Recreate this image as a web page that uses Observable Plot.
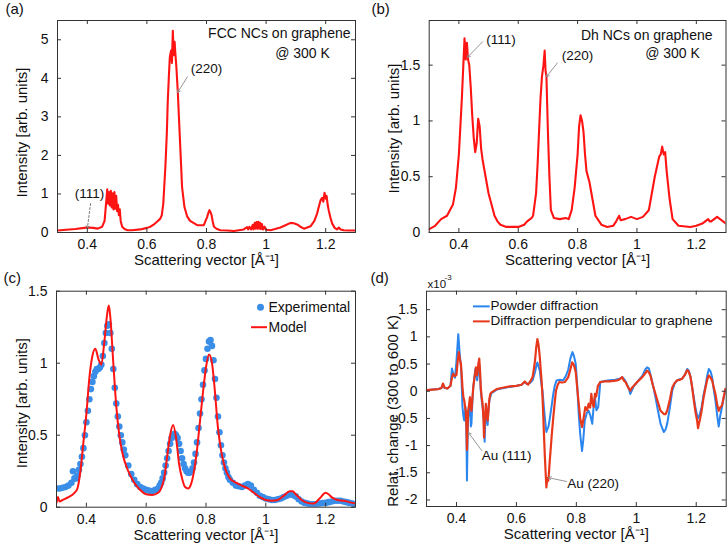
<!DOCTYPE html>
<html><head><meta charset="utf-8">
<script src="https://cdn.jsdelivr.net/npm/d3@7"></script>
<script src="https://cdn.jsdelivr.net/npm/@observablehq/plot@0.6"></script>
<style>
body{margin:0;background:#fff;}
#root{position:relative;width:728px;height:547px;overflow:hidden;background:#fff;font-family:"Liberation Sans",Arial,sans-serif;}
.panel{position:absolute;}
</style></head><body><div id="root"></div>
<script>
// ---------- shared tick labels ----------
const xTicks = [0.4, 0.6, 0.8, 1, 1.2];
const xLabel = "Scattering vector [Å⁻¹]";

// ---------- (a) FCC NCs on graphene ----------
const aX = [0.30,0.33,0.36,0.39,0.40,0.42,0.435,0.45,0.458,0.464,0.467,0.470,0.473,0.476,0.479,0.482,0.485,0.488,0.491,0.494,0.497,0.500,0.503,0.506,0.509,0.512,0.517,0.525,0.535,0.55,0.578,0.60,0.612,0.625,0.634,0.645,0.650,0.655,0.662,0.667,0.670,0.674,0.677,0.681,0.684,0.687,0.690,0.693,0.695,0.699,0.704,0.708,0.711,0.718,0.726,0.735,0.745,0.769,0.791,0.802,0.806,0.810,0.814,0.817,0.821,0.825,0.835,0.847,0.87,0.892,0.925,0.936,0.940,0.944,0.950,0.955,0.958,0.962,0.965,0.968,0.971,0.974,0.977,0.980,0.983,0.986,0.990,0.995,1.0,1.015,1.03,1.048,1.065,1.082,1.093,1.104,1.115,1.127,1.149,1.162,1.171,1.178,1.183,1.188,1.192,1.196,1.200,1.203,1.207,1.21,1.216,1.222,1.23,1.238,1.244,1.25,1.261,1.28,1.30];
const aY = [0.05,0.07,0.09,0.12,0.13,0.12,0.10,0.15,0.3,0.85,1.12,0.75,1.05,0.7,1.08,0.65,1.02,0.6,1.05,0.62,0.95,0.55,0.72,0.45,0.6,0.3,0.15,0.09,0.06,0.06,0.08,0.12,0.15,0.22,0.28,0.36,0.45,0.75,1.7,2.6,3.4,4.1,4.55,4.72,4.4,5.23,4.6,4.95,4.7,4.28,3.6,2.9,2.39,1.18,0.66,0.42,0.3,0.19,0.19,0.4,0.5,0.58,0.52,0.45,0.28,0.15,0.09,0.06,0.05,0.04,0.08,0.14,0.08,0.15,0.08,0.2,0.08,0.25,0.1,0.27,0.1,0.28,0.1,0.25,0.09,0.22,0.08,0.15,0.07,0.06,0.09,0.13,0.19,0.25,0.24,0.21,0.15,0.1,0.16,0.3,0.49,0.7,0.84,0.9,0.8,1.03,0.88,0.95,0.7,0.58,0.38,0.23,0.12,0.08,0.13,0.08,0.06,0.05,0.05];
const aYTicks = [0, 1, 2, 3, 4, 5];
const aNotes = [
  {label: "(220)", tx: 0.80, ty: 4.25, x1: 0.736, y1: 4.04, x2: 0.703, y2: 3.63, dash: null},
  {label: "(111)", tx: 0.407, ty: 1.01, x1: 0.411, y1: 0.75, x2: 0.40, y2: 0.10, dash: "2,2"}
];

// ---------- (b) Dh NCs on graphene ----------
const bX = [0.30,0.32,0.34,0.36,0.38,0.39,0.40,0.41,0.415,0.419,0.423,0.427,0.431,0.435,0.44,0.445,0.45,0.455,0.46,0.465,0.47,0.475,0.48,0.49,0.50,0.51,0.52,0.53,0.54,0.56,0.58,0.60,0.62,0.63,0.64,0.645,0.65,0.66,0.665,0.67,0.675,0.68,0.685,0.689,0.692,0.695,0.70,0.705,0.71,0.72,0.74,0.76,0.77,0.78,0.79,0.80,0.805,0.81,0.815,0.82,0.825,0.83,0.84,0.85,0.86,0.88,0.90,0.92,0.93,0.94,0.945,0.96,0.98,1.0,1.02,1.04,1.05,1.06,1.07,1.075,1.08,1.085,1.09,1.095,1.10,1.11,1.12,1.14,1.18,1.20,1.22,1.24,1.245,1.25,1.27,1.29,1.30];
const bY = [0.03,0.06,0.12,0.15,0.25,0.4,0.7,1.2,1.5,1.74,1.55,1.7,1.55,1.5,1.3,1.05,0.85,0.72,0.8,1.02,0.95,0.75,0.65,0.5,0.35,0.25,0.15,0.1,0.07,0.05,0.05,0.05,0.07,0.1,0.12,0.13,0.15,0.35,0.6,0.9,1.2,1.4,1.5,1.63,1.45,1.4,0.9,0.5,0.2,0.13,0.12,0.13,0.12,0.2,0.4,0.7,0.95,1.05,1.0,0.9,0.7,0.55,0.45,0.3,0.15,0.07,0.05,0.06,0.1,0.15,0.11,0.12,0.14,0.12,0.14,0.2,0.35,0.5,0.62,0.68,0.7,0.77,0.7,0.72,0.55,0.3,0.12,0.06,0.05,0.06,0.08,0.12,0.1,0.1,0.14,0.1,0.08];
const bYTicks = [0, 0.5, 1, 1.5];
const bNotes = [
  {label: "(111)", tx: 0.542, ty: 1.726, x1: 0.48, y1: 1.71, x2: 0.429, y2: 1.57, dash: null},
  {label: "(220)", tx: 0.80, ty: 1.583, x1: 0.732, y1: 1.52, x2: 0.695, y2: 1.395, dash: null}
];

// ---------- (c) Experimental vs model ----------
const cExpX = [0.30,0.31,0.32,0.33,0.34,0.35,0.355,0.36,0.365,0.37,0.375,0.38,0.385,0.39,0.395,0.40,0.405,0.41,0.415,0.42,0.425,0.43,0.435,0.44,0.445,0.45,0.455,0.46,0.465,0.47,0.475,0.48,0.485,0.49,0.495,0.50,0.505,0.51,0.515,0.52,0.525,0.53,0.54,0.55,0.56,0.57,0.58,0.59,0.60,0.61,0.62,0.63,0.64,0.645,0.65,0.655,0.66,0.665,0.67,0.675,0.68,0.685,0.69,0.695,0.70,0.705,0.71,0.715,0.72,0.725,0.73,0.735,0.74,0.745,0.75,0.755,0.76,0.765,0.77,0.775,0.78,0.785,0.79,0.795,0.80,0.805,0.81,0.815,0.82,0.825,0.83,0.835,0.84,0.845,0.85,0.855,0.86,0.865,0.87,0.875,0.88,0.89,0.90,0.91,0.92,0.93,0.94,0.95,0.96,0.97,0.98,0.99,1.00,1.01,1.02,1.03,1.04,1.05,1.06,1.07,1.08,1.09,1.10,1.11,1.12,1.13,1.14,1.15,1.16,1.17,1.18,1.19,1.20,1.21,1.22,1.23,1.24,1.25,1.26,1.27,1.28,1.29,1.30];
const cExpY = [0.13,0.13,0.135,0.14,0.15,0.17,0.25,0.2,0.2,0.22,0.26,0.3,0.35,0.41,0.5,0.59,0.67,0.75,0.82,0.87,0.91,0.94,0.96,0.96,0.97,0.99,1.05,1.14,1.21,1.26,1.27,1.21,1.1,0.96,0.83,0.72,0.63,0.56,0.5,0.45,0.4,0.36,0.29,0.23,0.19,0.16,0.14,0.13,0.12,0.115,0.11,0.12,0.13,0.15,0.17,0.2,0.24,0.29,0.34,0.39,0.44,0.48,0.5,0.51,0.5,0.48,0.44,0.39,0.34,0.3,0.27,0.25,0.24,0.24,0.25,0.27,0.31,0.37,0.45,0.55,0.65,0.75,0.85,0.95,1.03,1.1,1.15,1.16,1.12,1.02,0.89,0.76,0.63,0.52,0.43,0.36,0.31,0.27,0.24,0.21,0.19,0.17,0.15,0.145,0.14,0.15,0.16,0.15,0.12,0.1,0.08,0.07,0.06,0.055,0.05,0.05,0.055,0.06,0.07,0.08,0.09,0.085,0.075,0.055,0.04,0.03,0.025,0.02,0.02,0.022,0.025,0.028,0.03,0.035,0.04,0.045,0.045,0.045,0.04,0.035,0.03,0.025,0.02];
const cModX = [0.30,0.305,0.31,0.32,0.34,0.36,0.37,0.38,0.39,0.40,0.41,0.42,0.43,0.44,0.45,0.46,0.47,0.475,0.48,0.49,0.50,0.51,0.52,0.54,0.56,0.58,0.60,0.62,0.64,0.66,0.67,0.68,0.69,0.70,0.71,0.72,0.73,0.74,0.75,0.76,0.77,0.78,0.79,0.80,0.81,0.82,0.83,0.84,0.85,0.86,0.88,0.90,0.92,0.94,0.96,0.98,1.00,1.02,1.04,1.06,1.08,1.09,1.10,1.12,1.14,1.16,1.18,1.20,1.21,1.22,1.24,1.26,1.28,1.30];
const cModY = [0.03,0.07,0.04,0.05,0.07,0.1,0.13,0.25,0.45,0.65,0.9,1.05,1.1,1.03,0.99,1.15,1.35,1.40,1.32,1.0,0.7,0.5,0.38,0.25,0.17,0.12,0.09,0.085,0.1,0.2,0.35,0.5,0.57,0.48,0.3,0.2,0.14,0.13,0.16,0.25,0.4,0.6,0.8,0.97,1.06,1.0,0.8,0.55,0.4,0.3,0.2,0.17,0.15,0.13,0.1,0.07,0.05,0.045,0.05,0.08,0.11,0.11,0.09,0.05,0.03,0.025,0.06,0.1,0.09,0.07,0.05,0.045,0.035,0.025];
const cYTicks = [0, 0.5, 1, 1.5];
const cLegend = ["Experimental", "Model"];

// ---------- (d) relative change 300 -> 600 K (x10^-3) ----------
const dPowX = [0.30,0.32,0.34,0.35,0.355,0.36,0.37,0.38,0.385,0.39,0.395,0.40,0.406,0.411,0.416,0.42,0.423,0.426,0.43,0.433,0.435,0.437,0.439,0.442,0.445,0.448,0.45,0.453,0.456,0.46,0.463,0.466,0.469,0.473,0.476,0.479,0.481,0.485,0.489,0.492,0.494,0.496,0.498,0.501,0.504,0.507,0.511,0.517,0.522,0.534,0.55,0.578,0.60,0.617,0.628,0.635,0.645,0.654,0.662,0.667,0.67,0.674,0.678,0.683,0.687,0.691,0.696,0.70,0.703,0.707,0.712,0.718,0.723,0.728,0.734,0.745,0.756,0.765,0.773,0.78,0.787,0.792,0.798,0.803,0.808,0.813,0.819,0.823,0.828,0.835,0.841,0.847,0.853,0.858,0.862,0.867,0.873,0.88,0.895,0.91,0.93,0.945,0.953,0.96,0.967,0.975,0.98,0.984,0.992,1.003,1.02,1.03,1.036,1.042,1.05,1.064,1.072,1.081,1.092,1.098,1.103,1.112,1.12,1.128,1.136,1.145,1.153,1.162,1.17,1.175,1.181,1.19,1.197,1.203,1.206,1.212,1.218,1.225,1.231,1.237,1.242,1.248,1.253,1.258,1.264,1.27,1.275,1.28,1.286,1.292,1.30];
const dPowY = [0.02,0.03,0.04,0.06,0.13,0.06,0.05,0.1,0.42,0.3,0.25,0.55,1.05,0.68,0.38,-0.29,-0.45,-0.54,-0.29,-0.7,-1.64,-0.9,-0.48,-0.35,-0.23,-0.65,-0.6,-0.2,0.07,0.25,0.41,0.3,0.2,0.38,0.47,0.25,0.01,-0.2,-0.36,-0.6,-0.93,-0.6,-0.36,-0.5,-0.62,-0.3,-0.14,-0.03,-0.02,0.03,0.05,0.08,0.1,0.12,0.17,0.14,0.15,0.2,0.35,0.48,0.53,0.45,0.38,0.15,0.01,-0.25,-0.55,-0.75,-0.7,-0.65,-0.48,-0.25,-0.05,0.1,0.2,0.21,0.2,0.28,0.4,0.6,0.72,0.65,0.5,0.1,-0.42,-0.8,-1.1,-0.9,-0.54,-0.4,-0.36,-0.45,-0.6,-0.25,-0.11,-0.35,-0.29,0.17,0.19,0.2,0.21,0.23,0.26,0.22,0.15,0.05,-0.05,0.0,0.1,0.17,0.28,0.4,0.44,0.42,0.25,-0.11,-0.35,-0.6,-0.75,-0.7,-0.6,-0.3,0.01,0.14,0.2,0.22,0.23,0.3,0.41,0.38,0.26,-0.05,-0.29,-0.45,-0.5,-0.42,-0.29,-0.05,0.1,0.3,0.41,0.36,0.26,0.05,-0.17,-0.45,-0.65,-0.45,-0.29,-0.1,0.04];
const dPerX = [0.30,0.32,0.34,0.35,0.355,0.36,0.37,0.38,0.385,0.389,0.395,0.40,0.404,0.408,0.411,0.415,0.418,0.42,0.423,0.426,0.429,0.431,0.433,0.435,0.437,0.439,0.442,0.445,0.448,0.45,0.453,0.456,0.46,0.465,0.469,0.473,0.476,0.479,0.481,0.484,0.487,0.49,0.492,0.494,0.498,0.501,0.504,0.507,0.509,0.513,0.517,0.534,0.55,0.578,0.60,0.617,0.628,0.634,0.639,0.646,0.654,0.658,0.662,0.666,0.67,0.674,0.678,0.681,0.684,0.687,0.689,0.692,0.695,0.698,0.70,0.703,0.706,0.708,0.711,0.714,0.718,0.723,0.728,0.732,0.738,0.743,0.752,0.762,0.773,0.78,0.786,0.792,0.798,0.803,0.808,0.813,0.819,0.824,0.83,0.836,0.841,0.846,0.85,0.853,0.858,0.862,0.866,0.872,0.88,0.895,0.91,0.925,0.936,0.945,0.953,0.958,0.964,0.97,0.975,0.98,0.985,0.992,1.003,1.02,1.03,1.036,1.042,1.047,1.055,1.064,1.072,1.081,1.092,1.098,1.103,1.112,1.12,1.128,1.136,1.145,1.153,1.162,1.17,1.175,1.181,1.187,1.192,1.198,1.203,1.206,1.209,1.213,1.218,1.225,1.231,1.237,1.242,1.248,1.253,1.258,1.264,1.27,1.275,1.28,1.286,1.292,1.297,1.30];
const dPerY = [0.02,0.03,0.04,0.06,0.14,0.07,0.05,0.1,0.25,0.32,0.28,0.3,0.55,0.72,0.6,0.5,0.25,0.07,-0.1,-0.17,-0.3,-0.36,-0.6,-1.08,-0.7,-0.36,-0.25,-0.11,-0.3,-0.36,-0.15,0.07,0.25,0.44,0.29,0.5,0.6,0.35,0.07,-0.1,-0.23,-0.5,-0.85,-0.6,-0.23,-0.4,-0.54,-0.35,-0.17,-0.05,-0.02,0.04,0.06,0.09,0.1,0.12,0.18,0.14,0.12,0.18,0.26,0.4,0.56,0.8,0.96,0.85,0.63,0.4,0.2,-0.1,-0.36,-0.8,-1.21,-1.55,-1.77,-1.6,-1.65,-1.55,-1.3,-1.09,-0.8,-0.48,-0.2,0.01,0.12,0.17,0.16,0.17,0.26,0.4,0.53,0.48,0.35,0.05,-0.23,-0.5,-0.66,-0.5,-0.29,-0.35,-0.23,-0.3,-0.05,-0.2,-0.29,-0.05,-0.1,0.1,0.17,0.18,0.18,0.19,0.2,0.22,0.26,0.2,0.17,0.1,0.05,0.01,0.06,0.1,0.17,0.26,0.33,0.38,0.35,0.29,0.12,-0.05,-0.2,-0.36,-0.42,-0.42,-0.36,-0.15,0.07,0.15,0.2,0.21,0.23,0.3,0.39,0.36,0.26,0.05,-0.17,-0.4,-0.54,-0.68,-0.6,-0.5,-0.36,-0.1,0.07,0.22,0.29,0.25,0.2,0.08,-0.05,-0.25,-0.36,-0.3,-0.26,-0.1,0.04,0.05];
const dYTicks = [-2, -1.5, -1, -0.5, 0, 0.5, 1, 1.5];
const dLegend = ["Powder diffraction", "Diffraction perpendicular to graphene"];
const dNotes = [
  {label: "Au (111)", tx: 0.567, ty: -1.18, x1: 0.484, y1: -1.09, x2: 0.44, y2: -0.76, dash: null},
  {label: "Au (220)", tx: 0.856, ty: -1.70, x1: 0.767, y1: -1.66, x2: 0.707, y2: -1.59, dash: null}
];

// ---------- styling ----------
const FONT = '"Liberation Sans", Arial, sans-serif';
const AX = "#333";
const RED = "#ff1414";
const BLUE_C = "#3a8ee8";
const BLUE_D = "#2a86ee";
const RED_D = "#e8381c";
const INK = "#111";

const rows = (xs, ys) => xs.map((x, i) => ({x, y: ys[i]}));

// text helper: always vertically centred on its anchor point
const label = (data, opts) => Plot.text(data, {lineAnchor: "middle", fill: INK, ...opts});

function arrowMarks(notes) {
  return [
    Plot.arrow(notes.filter(d => !d.dash), {x1: "x1", y1: "y1", x2: "x2", y2: "y2", stroke: "#8a8a8a", strokeWidth: 0.9, headLength: 5}),
    Plot.arrow(notes.filter(d => d.dash), {x1: "x1", y1: "y1", x2: "x2", y2: "y2", stroke: "#6a6a6a", strokeWidth: 0.9, headLength: 5, strokeDasharray: "2,2"}),
    label(notes, {x: "tx", y: "ty", text: "label", fontSize: 13.5})
  ];
}

function panel(cfg) {
  const {left, top, w, h, m, yDomain, yTicks, marks, yLabel, yLabelDx, yLabelDy, tag, tagDx, tagDy} = cfg;
  const fw = w - m.l - m.r, fh = h - m.t - m.b, tk = 4;
  const chart = Plot.plot({
    width: w, height: h,
    marginLeft: m.l, marginRight: m.r, marginTop: m.t, marginBottom: m.b,
    style: {fontFamily: FONT, fontSize: "14px", color: INK, background: "transparent", overflow: "visible"},
    x: {domain: [0.3, 1.3]},
    y: {domain: yDomain},
    marks: [
      ...marks,
      Plot.frame({stroke: AX, strokeWidth: 1}),
      Plot.tickX(xTicks, {x: d => d, insetTop: fh - tk, stroke: AX}),
      Plot.tickX(xTicks, {x: d => d, insetBottom: fh - tk, stroke: AX}),
      Plot.tickY(yTicks, {y: d => d, insetRight: fw - tk, stroke: AX}),
      Plot.tickY(yTicks, {y: d => d, insetLeft: fw - tk, stroke: AX}),
      Plot.axisX(xTicks, {tickSize: 0, tickPadding: 7, tickFormat: d => String(d), label: null}),
      Plot.axisY(yTicks, {tickSize: 0, tickPadding: 9, tickFormat: d => String(d), label: null}),
      label([xLabel], {frameAnchor: "bottom", textAnchor: "middle", dy: 28, fontSize: 15}),
      label([yLabel], {frameAnchor: "left", textAnchor: "middle", dx: yLabelDx, dy: yLabelDy, rotate: -90, fontSize: 15}),
      label([tag], {frameAnchor: "top-left", textAnchor: "start", dx: tagDx, dy: tagDy, fontSize: 15})
    ]
  });
  const div = document.createElement("div");
  div.className = "panel";
  div.style.left = left + "px";
  div.style.top = top + "px";
  div.appendChild(chart);
  document.getElementById("root").appendChild(div);
}

// (a)
panel({
  left: 0, top: 0, w: 364, h: 270, m: {l: 57, r: 9, t: 20, b: 38},
  yDomain: [0, 5.5], yTicks: aYTicks,
  yLabel: "Intensity [arb. units]", yLabelDx: -35, yLabelDy: 6,
  tag: "(a)", tagDx: -52, tagDy: -11,
  marks: [
    Plot.line(rows(aX, aY), {x: "x", y: "y", stroke: RED, strokeWidth: 2.1, clip: true}),
    ...arrowMarks(aNotes),
    label(["FCC NCs on graphene"], {frameAnchor: "top-right", textAnchor: "end", dx: -5, dy: 13, fontSize: 14}),
    label(["@ 300 K"], {frameAnchor: "top-right", textAnchor: "middle", dx: -53, dy: 33, fontSize: 14})
  ]
});

// (b)
panel({
  left: 364, top: 0, w: 364, h: 270, m: {l: 64.7, r: 2.5, t: 20, b: 38},
  yDomain: [0, 1.9], yTicks: bYTicks,
  yLabel: "Intensity [arb. units]", yLabelDx: -35, yLabelDy: 2,
  tag: "(b)", tagDx: -57.7, tagDy: -11,
  marks: [
    Plot.line(rows(bX, bY), {x: "x", y: "y", stroke: RED, strokeWidth: 2.1, clip: true}),
    ...arrowMarks(bNotes),
    label(["Dh NCs on graphene"], {frameAnchor: "top-right", textAnchor: "end", dx: -13.5, dy: 15, fontSize: 14}),
    label(["@ 300 K"], {frameAnchor: "top-right", textAnchor: "middle", dx: -53.5, dy: 33, fontSize: 14})
  ]
});

// (c)
panel({
  left: 0, top: 270, w: 364, h: 277, m: {l: 56, r: 9, t: 20.7, b: 40.3},
  yDomain: [0, 1.5], yTicks: cYTicks,
  yLabel: "Intensity [arb. units]", yLabelDx: -34, yLabelDy: 4,
  tag: "(c)", tagDx: -53, tagDy: -12.7,
  marks: [
    Plot.dot(rows(cExpX, cExpY), {x: "x", y: "y", r: 3.3, fill: BLUE_C, stroke: "none", clip: true}),
    Plot.line(rows(cModX, cModY), {x: "x", y: "y", stroke: RED, strokeWidth: 2, clip: true, curve: "monotone-x"}),
    Plot.dot([cLegend[0]], {frameAnchor: "top-right", dx: -95, dy: 16, r: 3.5, fill: BLUE_C}),
    Plot.tickY([cYTicks[cYTicks.length - 1]], {y: d => d, dy: 36, insetLeft: 195, insetRight: 88, stroke: RED, strokeWidth: 2}),
    label([cLegend[0]], {frameAnchor: "top-right", textAnchor: "start", dx: -87, dy: 16, fontSize: 14}),
    label([cLegend[1]], {frameAnchor: "top-right", textAnchor: "start", dx: -87, dy: 36, fontSize: 14})
  ]
});

// (d)
panel({
  left: 364, top: 270, w: 364, h: 277, m: {l: 62, r: 2.3, t: 20.7, b: 41},
  yDomain: [-2.12, 1.84], yTicks: dYTicks,
  yLabel: "Relat. change (300 to 600 K)", yLabelDx: -33.5, yLabelDy: 12,
  tag: "(d)", tagDx: -56, tagDy: -12.7,
  marks: [
    Plot.line(rows(dPowX, dPowY), {x: "x", y: "y", stroke: BLUE_D, strokeWidth: 2, clip: true}),
    Plot.line(rows(dPerX, dPerY), {x: "x", y: "y", stroke: RED_D, strokeWidth: 2.2, clip: true}),
    ...arrowMarks(dNotes),
    Plot.tickY([dYTicks[dYTicks.length - 1]], {y: d => d, dy: -3.3, insetLeft: 47, insetRight: 236, stroke: BLUE_D, strokeWidth: 2}),
    Plot.tickY([dYTicks[dYTicks.length - 1]], {y: d => d, dy: 11.7, insetLeft: 47, insetRight: 236, stroke: RED_D, strokeWidth: 2}),
    label([dLegend[0]], {frameAnchor: "top-left", textAnchor: "start", dx: 64, dy: 14.3, fontSize: 13.5}),
    label([dLegend[1]], {frameAnchor: "top-left", textAnchor: "start", dx: 64, dy: 29.3, fontSize: 13.5}),
    label(["x10"], {frameAnchor: "top-left", textAnchor: "start", dx: 1, dy: -7, fontSize: 11.5}),
    label(["-3"], {frameAnchor: "top-left", textAnchor: "start", dx: 18, dy: -14, fontSize: 8})
  ]
});
</script></body></html>
